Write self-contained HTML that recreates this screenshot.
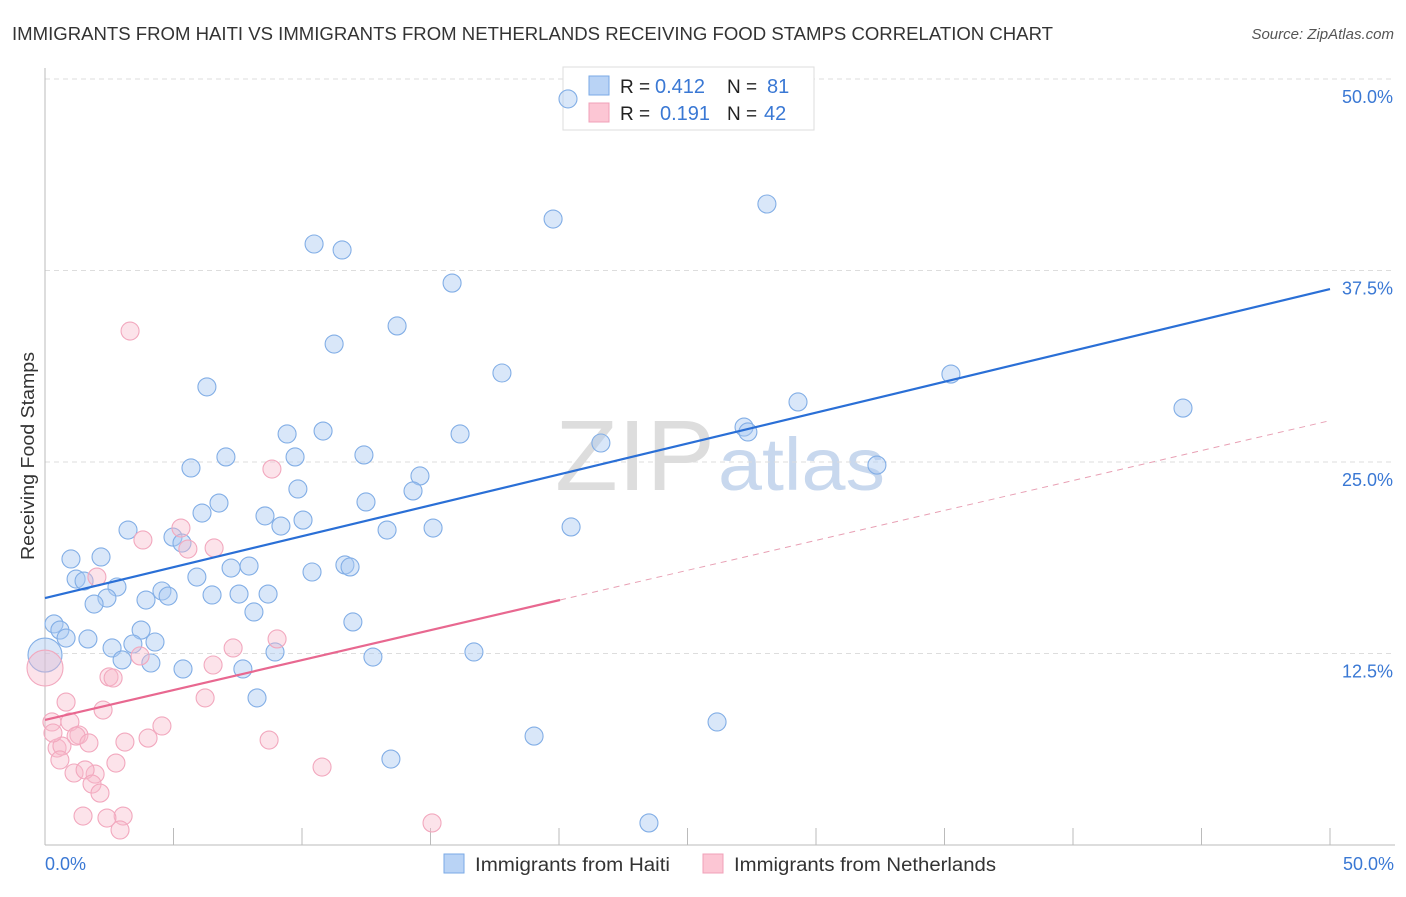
<!DOCTYPE html>
<html><head><meta charset="utf-8"><style>
body{margin:0;background:#fff;font-family:"Liberation Sans",sans-serif;}
svg text{font-family:"Liberation Sans",sans-serif;}
</style></head><body>
<svg id="c" width="1406" height="892" xmlns="http://www.w3.org/2000/svg">
<text x="12" y="40" font-size="18" fill="#333" textLength="1041" lengthAdjust="spacingAndGlyphs">IMMIGRANTS FROM HAITI VS IMMIGRANTS FROM NETHERLANDS RECEIVING FOOD STAMPS CORRELATION CHART</text>
<text x="1394" y="39" font-size="15" fill="#555" text-anchor="end" font-style="italic">Source: ZipAtlas.com</text>
<text x="555" y="490" font-size="100" fill="#ddd" font-family="Liberation Serif" textLength="160" lengthAdjust="spacingAndGlyphs">ZIP</text>
<text x="718" y="490" font-size="74" fill="#c8d8ee" textLength="167" lengthAdjust="spacingAndGlyphs">atlas</text>
<text transform="translate(34,456) rotate(-90)" font-size="18" fill="#333" text-anchor="middle" textLength="208" lengthAdjust="spacingAndGlyphs">Receiving Food Stamps</text>
<g id="grid"></g>
<g>
<rect x="563" y="67" width="251" height="63" fill="#fff" stroke="#ddd"/>
<rect x="589" y="76" width="20" height="19" fill="#b9d3f5" stroke="#7aa9e6"/>
<rect x="589" y="103" width="20" height="19" fill="#fcc6d4" stroke="#f0a0b8"/>
<text x="620" y="93" font-size="19" fill="#222">R =</text>
<text x="655" y="93" font-size="20" fill="#3a78d4">0.412</text>
<text x="727" y="93" font-size="19" fill="#222">N =</text>
<text x="767" y="93" font-size="20" fill="#3a78d4">81</text>
<text x="620" y="120" font-size="19" fill="#222">R =</text>
<text x="660" y="120" font-size="20" fill="#3a78d4">0.191</text>
<text x="727" y="120" font-size="19" fill="#222">N =</text>
<text x="764" y="120" font-size="20" fill="#3a78d4">42</text>
</g>
<g id="pts"></g><g id="lines"></g>
<g>
<rect x="444" y="854" width="20" height="19" fill="#b9d3f5" stroke="#7aa9e6"/>
<text x="475" y="871" font-size="19" fill="#333" textLength="195" lengthAdjust="spacingAndGlyphs">Immigrants from Haiti</text>
<rect x="703" y="854" width="20" height="19" fill="#fcc6d4" stroke="#f0a0b8"/>
<text x="734" y="871" font-size="19" fill="#333" textLength="262" lengthAdjust="spacingAndGlyphs">Immigrants from Netherlands</text>
</g>
</svg>
<script>
const yTicks=[12.5,25,37.5,50];
const yTickLabels=["12.5%","25.0%","37.5%","50.0%"];
const xTickLabels=["0.0%","50.0%"];
const haitiX=[20.35,28.09,19.77,10.47,11.56,15.84,13.70,11.25,6.30,17.78,35.25,29.30,44.28,27.20,27.35,9.42,10.82,16.15,21.63,7.04,9.73,12.41,5.68,32.37,14.59,14.32,9.84,6.77,12.49,6.11,8.56,9.18,10.04,13.31,15.10,20.47,3.23,4.98,5.33,1.01,2.18,7.24,7.94,10.39,11.67,11.87,1.21,1.52,5.91,2.80,4.55,4.79,6.50,7.55,8.68,2.41,1.91,3.93,8.13,11.98,0.35,0.58,0.82,1.67,3.74,4.28,3.42,2.61,8.95,16.69,12.76,3.00,4.12,5.37,7.70,0,8.25,26.15,19.03,13.46,23.50];
const haitiY=[48.7,41.84,40.86,39.23,38.84,36.68,33.88,32.70,29.90,30.81,30.74,28.92,28.52,27.28,26.96,26.83,27.02,26.83,26.24,25.33,25.33,25.46,24.61,24.80,24.09,23.11,23.24,22.32,22.39,21.67,21.48,20.82,21.21,20.56,20.69,20.76,20.56,20.10,19.71,18.67,18.80,18.08,18.21,17.82,18.28,18.15,17.36,17.23,17.49,16.84,16.58,16.25,16.32,16.38,16.38,16.12,15.73,15.99,15.21,14.56,14.43,14.03,13.51,13.45,14.03,13.25,13.12,12.86,12.60,12.60,12.27,12.08,11.88,11.49,11.49,12.40,9.60,8.03,7.11,5.61,1.44];
const nethX=[3.31,8.83,5.29,3.81,5.56,6.58,2.02,9.03,7.32,3.70,6.54,2.49,2.65,0,6.23,0.82,2.26,0.27,0.97,4.55,4.01,3.11,8.72,1.32,1.21,0.47,0.66,1.71,0.58,1.13,1.95,2.76,1.56,1.83,2.14,10.78,3.04,1.48,2.41,2.92,15.06,0.31];
const nethY=[33.55,24.54,20.69,19.91,19.32,19.39,17.49,13.45,12.86,12.34,11.75,10.97,10.90,11.55,9.60,9.33,8.81,8.03,8.03,7.77,6.98,6.72,6.85,7.18,7.11,6.33,6.46,6.66,5.55,4.70,4.63,5.35,4.90,3.98,3.39,5.09,1.89,1.89,1.76,0.98,1.44,7.31];
const haitiTrend=[16.12,36.29];
const nethTrend=[8.16,27.7];
const nethSolidEnd=20.04;

const X=v=>45+v*25.7, Y=v=>845-v*15.32;
const NS="http://www.w3.org/2000/svg";
function mk(tag,attrs,parent){const e=document.createElementNS(NS,tag);for(const k in attrs)e.setAttribute(k,attrs[k]);parent.appendChild(e);return e;}
const grid=document.getElementById('grid');
yTicks.forEach((t,i)=>{
 const l=mk('line',{x1:45,x2:1395,y1:Y(t),y2:Y(t),stroke:'#ddd','stroke-dasharray':'5,4'},grid);
 
 
 const tx=mk('text',{x:1393,y:Y(t)+24,'font-size':18,fill:'#3a78d4','text-anchor':'end'},grid);
 tx.textContent=yTickLabels[i];
 
 
});
const ax=mk('line',{x1:45,x2:45,y1:68,y2:845,stroke:'#bbb'},grid);


const bx=mk('line',{x1:45,x2:1395,y1:845,y2:845,stroke:'#bbb'},grid);


for(let i=1;i<=10;i++){
 const t=mk('line',{x1:X(i*5),x2:X(i*5),y1:828,y2:845,stroke:'#bbb'},grid);
 
 
}
[[0,'start',45],[50,'end',1394]].forEach((d,i)=>{
 const t=mk('text',{x:d[2],y:870,'font-size':18,fill:'#3a78d4','text-anchor':d[1]},grid);
 t.textContent=xTickLabels[i];
 
 
});
const pts=document.getElementById('pts');
haitiX.forEach((x,i)=>{
 const big=(x===0);
 const c=mk('circle',{cx:X(x),cy:Y(haitiY[i]),r:big?17:9,fill:'rgba(170,202,242,0.45)',stroke:'#82aee6','stroke-width':1.1},pts);
 
 
});
nethX.forEach((x,i)=>{
 const big=(x===0);
 const c=mk('circle',{cx:X(x),cy:Y(nethY[i]),r:big?18:9,fill:'rgba(248,184,202,0.4)',stroke:'#f2a8be','stroke-width':1.1},pts);
 
 
});
const lines=document.getElementById('lines');
const hl=mk('line',{x1:X(0),y1:Y(haitiTrend[0]),x2:X(50),y2:Y(haitiTrend[1]),stroke:'#2a6fd6','stroke-width':2.2},lines);


const ny=v=>nethTrend[0]+(nethTrend[1]-nethTrend[0])*v/50;
const nl=mk('line',{x1:X(0),y1:Y(ny(0)),x2:X(nethSolidEnd),y2:Y(ny(nethSolidEnd)),stroke:'#e86890','stroke-width':2.2},lines);


const nd=mk('line',{x1:X(nethSolidEnd),y1:Y(ny(nethSolidEnd)),x2:X(50),y2:Y(ny(50)),stroke:'#e8a0b4','stroke-width':1,'stroke-dasharray':'6,5'},lines);


</script>
</body></html>
